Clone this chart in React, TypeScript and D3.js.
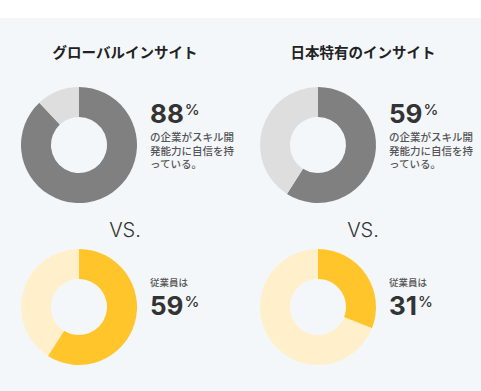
import React from "react";
import * as d3 from "d3";

const groups = ["グローバルインサイト", "日本特有のインサイト"];
const companyValues = [88, 59];
const employeeValues = [59, 31];
const companyCaption = ["の企業がスキル開", "発能力に自信を持", "っている。"];
const employeeCaption = "従業員は";
const vsLabel = "VS.";

const width = 481;
const height = 391;
const jp = '"Noto Sans CJK JP", "Noto Sans", sans-serif';
const num = 'Inter, "Noto Sans", sans-serif';

const grey = ["#808080", "#dedede"];
const yellow = ["#ffc52b", "#fff0cb"];

const outerR = 58;
const innerR = 28;

const pie = d3
  .pie<number>()
  .sort(null)
  .value((d) => d);
const arc = d3.arc<d3.PieArcDatum<number>>().innerRadius(innerR).outerRadius(outerR);

const Donut = ({ value, colors, cx, cy }) => {
  const slices = pie([value, 100 - value]);
  return (
    <g transform={`translate(${cx},${cy})`}>
      {slices.map((s, i) => (
        <path key={i} d={arc(s) || ""} fill={colors[i]} />
      ))}
    </g>
  );
};

const Percent = ({ value, x, y }) => (
  <text x={x} y={y} fontFamily={num} fill="#333" fontWeight={700}>
    <tspan fontSize={26}>{value}</tspan>
    <tspan fontSize={15} fontWeight={500} dx={1} dy={-8}>
      %
    </tspan>
  </text>
);

export default function App() {
  const colX = d3.scalePoint<number>().domain([0, 1]).range([79, 318]);
  const titleX = d3.scalePoint<number>().domain([0, 1]).range([125, 363]);
  const topY = 145;
  const bottomY = 307;

  return (
    <svg
      width={width}
      height={height}
      style={{ position: "absolute", left: 0, top: 0 }}
    >
      <rect x={0} y={0} width={width} height={height} fill="#ffffff" />
      <rect x={0} y={18} width={width} height={height - 18} fill="#f4f7fa" />
      {groups.map((g, i) => {
        const cx = colX(i) ?? 0;
        const tx = cx + 71;
        return (
          <g key={g}>
            <text
              x={titleX(i)}
              y={58}
              textAnchor="middle"
              fontFamily={jp}
              fontWeight={700}
              fontSize={14.5}
              fill="#222"
            >
              {g}
            </text>
            <Donut value={companyValues[i]} colors={grey} cx={cx} cy={topY} />
            <Percent value={companyValues[i]} x={tx} y={123} />
            {companyCaption.map((line, j) => (
              <text
                key={j}
                x={tx}
                y={141 + j * 13.5}
                fontFamily={jp}
                fontSize={10.5}
                fontWeight={500}
                fill="#555"
              >
                {line}
              </text>
            ))}
            <text
              x={titleX(i)}
              y={237}
              textAnchor="middle"
              fontFamily={num}
              fontWeight={300}
              fontSize={20}
              fill="#333"
            >
              {vsLabel}
            </text>
            <Donut value={employeeValues[i]} colors={yellow} cx={cx} cy={bottomY} />
            <text
              x={tx}
              y={286}
              fontFamily={jp}
              fontSize={9.5}
              fontWeight={500}
              fill="#555"
            >
              {employeeCaption}
            </text>
            <Percent value={employeeValues[i]} x={tx} y={315} />
          </g>
        );
      })}
    </svg>
  );
}
